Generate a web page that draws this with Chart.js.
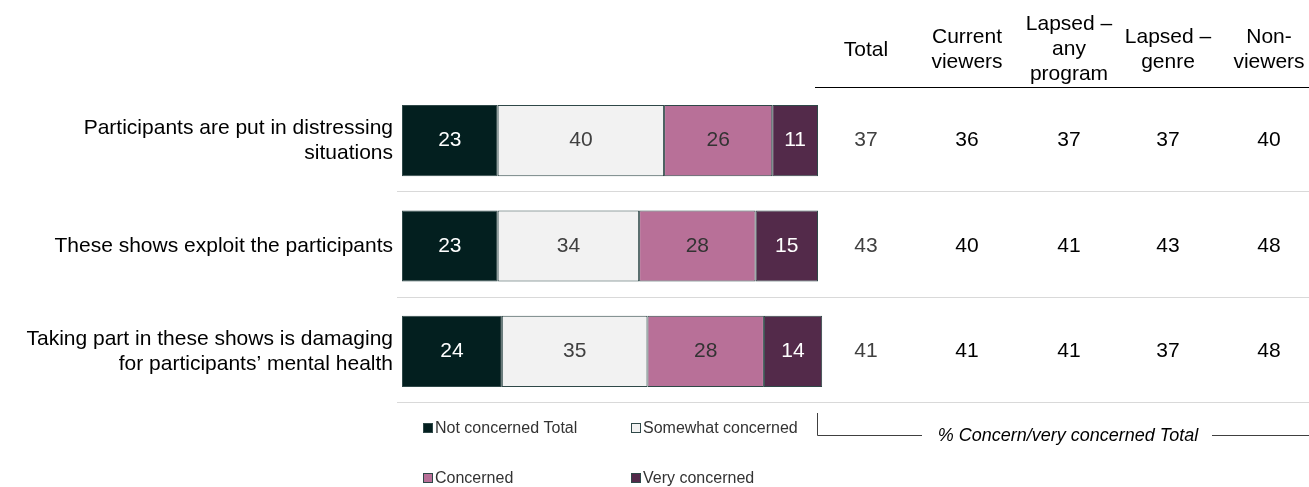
<!DOCTYPE html>
<html>
<head>
<meta charset="utf-8">
<title>Concern about participants</title>
<script src="https://cdn.jsdelivr.net/npm/chart.js@4/dist/chart.umd.min.js"></script>
<style>
  html, body { margin: 0; padding: 0; background: #ffffff; }
  #wrap { position: relative; width: 1309px; height: 487px; }
</style>
</head>
<body>
<div id="wrap"><canvas id="chart" width="1309" height="487"></canvas></div>
<script>
// Statements (row labels, split into lines)
const categories = [
  ["Participants are put in distressing", "situations"],
  ["These shows exploit the participants"],
  ["Taking part in these shows is damaging", "for participants’ mental health"]
];

// Stacked bar series (%)
const notConcerned      = [23, 23, 24];
const somewhatConcerned = [40, 34, 35];
const concerned         = [26, 28, 28];
const veryConcerned     = [11, 15, 14];

const seriesNames = ["Not concerned Total", "Somewhat concerned", "Concerned", "Very concerned"];

// Side table: % concerned/very concerned by viewer group
const groupHeaders = [
  ["Total"],
  ["Current", "viewers"],
  ["Lapsed –", "any", "program"],
  ["Lapsed –", "genre"],
  ["Non-", "viewers"]
];
const totalConcern   = [37, 43, 41];
const currentViewers = [36, 40, 41];
const lapsedAny      = [37, 41, 41];
const lapsedGenre    = [37, 43, 37];
const nonViewers     = [40, 48, 48];
const groupValues = [totalConcern, currentViewers, lapsedAny, lapsedGenre, nonViewers];

const bracketLabel = "% Concern/very concerned Total";

// Styling
const FONT = "'Liberation Sans', Arial, Helvetica, sans-serif";
const fills = ["#031f1f", "#f2f2f2", "#b87098", "#532a4a"];
const valueColors = ["#ffffff", "#404040", "#333333", "#ffffff"];
const segBorder = "#2f4848";
const columnX = [866, 967, 1069, 1168, 1269];

const sidePlugin = {
  id: "sideTable",
  afterDatasetsDraw(chart) {
    const ctx = chart.ctx;
    const y = chart.scales.y;
    const area = chart.chartArea;
    const band = (y.getPixelForValue(1) - y.getPixelForValue(0));
    ctx.save();

    // separators between rows
    ctx.strokeStyle = "#d9d9d9";
    ctx.lineWidth = 1;
    categories.forEach((_, i) => {
      const yy = Math.round(y.getPixelForValue(i) + band * 0.48) + 0.5;
      ctx.beginPath();
      ctx.moveTo(area.left - 5, yy);
      ctx.lineTo(chart.width, yy);
      ctx.stroke();
    });

    // header rule
    ctx.strokeStyle = "#000000";
    ctx.beginPath();
    ctx.moveTo(area.right - 3, 87.5);
    ctx.lineTo(chart.width, 87.5);
    ctx.stroke();

    // row labels
    ctx.font = "21px " + FONT;
    ctx.fillStyle = "#000000";
    ctx.textAlign = "right";
    ctx.textBaseline = "middle";
    const lh = 25;
    categories.forEach((lines, i) => {
      const cy = y.getPixelForValue(i);
      const start = cy - (lines.length - 1) * lh / 2;
      lines.forEach((t, k) => ctx.fillText(t, area.left - 9, start + k * lh));
    });

    // segment values inside bars
    ctx.textAlign = "center";
    chart.data.datasets.forEach((ds, di) => {
      const meta = chart.getDatasetMeta(di);
      meta.data.forEach((bar, i) => {
        const cx = (bar.x + bar.base) / 2;
        ctx.fillStyle = valueColors[di];
        ctx.fillText(String(ds.data[i]), cx, bar.y);
      });
    });

    // group headers
    ctx.fillStyle = "#000000";
    ctx.textBaseline = "alphabetic";
    groupHeaders.forEach((lines, c) => {
      const bottom = 80;
      const first = lines.length === 3 ? 30 : (lines.length === 2 ? 43 : 56);
      lines.forEach((t, k) => ctx.fillText(t, columnX[c], first + k * 25));
    });

    // group values
    ctx.textBaseline = "middle";
    groupValues.forEach((vals, c) => {
      ctx.fillStyle = c === 0 ? "#404040" : "#000000";
      vals.forEach((v, i) => ctx.fillText(String(v), columnX[c], y.getPixelForValue(i)));
    });

    // legend
    ctx.font = "16px " + FONT;
    ctx.textAlign = "left";
    const legendPos = [[423, 428], [631, 428], [423, 478], [631, 478]];
    seriesNames.forEach((name, i) => {
      const [lx, ly] = legendPos[i];
      ctx.fillStyle = fills[i];
      ctx.fillRect(lx, ly - 5, 10, 10);
      ctx.strokeStyle = segBorder;
      ctx.lineWidth = 1;
      ctx.strokeRect(lx + 0.5, ly - 4.5, 9, 9);
      ctx.fillStyle = "#333333";
      ctx.fillText(name, lx + 12, ly + 1);
    });

    // bracket under the side table
    ctx.strokeStyle = "#404040";
    ctx.lineWidth = 1;
    ctx.beginPath();
    ctx.moveTo(817.5, 413);
    ctx.lineTo(817.5, 435.5);
    ctx.lineTo(922, 435.5);
    ctx.moveTo(1212, 435.5);
    ctx.lineTo(chart.width, 435.5);
    ctx.stroke();
    ctx.font = "italic 18px " + FONT;
    ctx.fillStyle = "#000000";
    ctx.textAlign = "center";
    ctx.fillText(bracketLabel, 1068, 436);

    ctx.restore();
  }
};

const seriesData = [notConcerned, somewhatConcerned, concerned, veryConcerned];

new Chart(document.getElementById("chart"), {
  type: "bar",
  data: {
    labels: categories.map(l => l.join(" ")),
    datasets: seriesData.map((d, i) => ({
      label: seriesNames[i],
      data: d,
      backgroundColor: fills[i],
      borderColor: segBorder,
      borderWidth: 1,
      borderSkipped: false,
      categoryPercentage: 1,
      barPercentage: 0.675,
      clip: false
    }))
  },
  options: {
    indexAxis: "y",
    responsive: false,
    animation: false,
    devicePixelRatio: 1,
    layout: { padding: { left: 402, right: 491, top: 88, bottom: 83 } },
    scales: {
      x: { stacked: true, min: 0, max: 100, display: false },
      y: { stacked: true, display: false }
    },
    plugins: {
      legend: { display: false },
      tooltip: { enabled: false }
    }
  },
  plugins: [sidePlugin]
});
</script>
</body>
</html>
